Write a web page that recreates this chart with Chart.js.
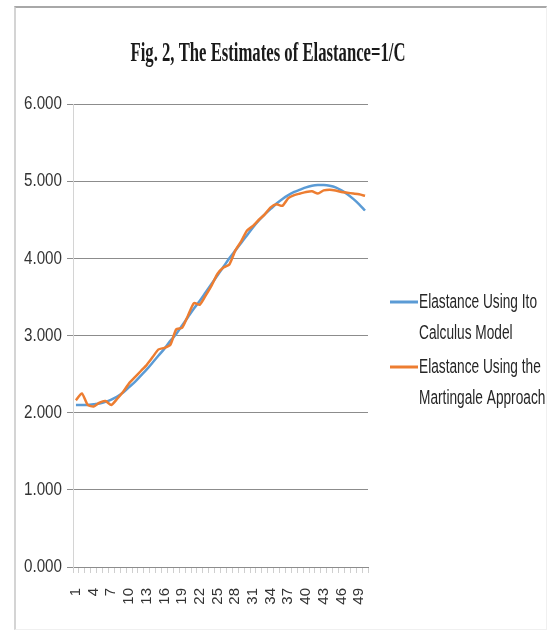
<!DOCTYPE html>
<html>
<head>
<meta charset="utf-8">
<script src="https://cdn.jsdelivr.net/npm/chart.js@4/dist/chart.umd.min.js"></script>
<style>
  html, body { margin: 0; padding: 0; background: #fff; }
  #wrap { position: relative; width: 556px; height: 633px; overflow: hidden; }
  #frame {
    position: absolute; left: 14px; top: 6px; width: 533px; height: 624px;
    box-sizing: border-box;
    border-top: 2px solid #a8a8a8; border-left: 2px solid #d4d4d4;
    border-right: 1px solid #f0f0f0; border-bottom: 1px solid #f0f0f0;
  }
  canvas { position: absolute; left: 0; top: 0; }
</style>
</head>
<body>
<div id="wrap">
  <div id="frame"></div>
  <canvas id="chart" width="556" height="633"></canvas>
</div>
<script>
// Observation index 1..50
const categories = ['1','2','3','4','5','6','7','8','9','10',
  '11','12','13','14','15','16','17','18','19','20',
  '21','22','23','24','25','26','27','28','29','30',
  '31','32','33','34','35','36','37','38','39','40',
  '41','42','43','44','45','46','47','48','49','50'];

// Elastance estimated with the Ito calculus model
const itoModel = [2.10, 2.10, 2.10, 2.11, 2.12, 2.14, 2.17, 2.21, 2.26, 2.33,
  2.40, 2.48, 2.56, 2.65, 2.74, 2.83, 2.93, 3.02, 3.13, 3.24,
  3.35, 3.45, 3.56, 3.67, 3.78, 3.89, 4.00, 4.10, 4.20, 4.30,
  4.40, 4.49, 4.57, 4.64, 4.71, 4.77, 4.82, 4.86, 4.89, 4.92,
  4.94, 4.95, 4.95, 4.94, 4.92, 4.88, 4.83, 4.77, 4.70, 4.62];

// Elastance estimated with the martingale approach
const martingale = [2.16, 2.25, 2.10, 2.08, 2.13, 2.15, 2.10, 2.18, 2.27, 2.38,
  2.46, 2.54, 2.62, 2.72, 2.82, 2.84, 2.88, 3.08, 3.10, 3.26,
  3.42, 3.40, 3.52, 3.65, 3.80, 3.88, 3.92, 4.10, 4.22, 4.36,
  4.42, 4.50, 4.57, 4.66, 4.70, 4.68, 4.78, 4.82, 4.84, 4.86,
  4.87, 4.84, 4.88, 4.89, 4.88, 4.86, 4.85, 4.84, 4.83, 4.81];

const yMin = 0, yMax = 6, yStep = 1;
const seriesNames = ['Elastance Using Ito Calculus Model', 'Elastance Using the Martingale Approach'];
const legendLines = [['Elastance Using Ito', 'Calculus Model'], ['Elastance Using the', 'Martingale Approach']];
const titleText = 'Fig. 2, The Estimates of Elastance=1/C';
const seriesColors = ['#5b9bd5', '#ed7d31'];

const sans = '"Liberation Sans", Arial, sans-serif';

// Draw text squeezed horizontally by factor sx
function drawCondensed(ctx, text, x, y, sx, align) {
  ctx.save();
  ctx.translate(x, y);
  ctx.scale(sx, 1);
  ctx.textAlign = align;
  ctx.fillText(text, 0, 0);
  ctx.restore();
}

// Condensed serif title above the plot
const titlePlugin = {
  id: 'figTitle',
  afterDraw(chart) {
    const ctx = chart.ctx;
    ctx.save();
    ctx.fillStyle = '#1a1a1a';
    ctx.font = 'bold 27px "Liberation Serif", "Times New Roman", serif';
    ctx.textBaseline = 'alphabetic';
    const sx = 275 / ctx.measureText(titleText).width;
    drawCondensed(ctx, titleText, 268, 61, sx, 'center');
    ctx.restore();
  }
};

// Narrow value labels beside the y gridlines, placed through the y scale
const yLabels = {
  id: 'yLabels',
  afterDraw(chart) {
    const ctx = chart.ctx;
    const scale = chart.scales.y;
    ctx.save();
    ctx.fillStyle = '#333333';
    ctx.font = '19px ' + sans;
    ctx.textBaseline = 'middle';
    const sx = 38 / ctx.measureText('6.000').width;
    scale.ticks.forEach((t) => {
      const y = scale.getPixelForValue(t.value);
      drawCondensed(ctx, Number(t.value).toFixed(3), scale.right - 11, y, sx, 'right');
    });
    ctx.restore();
  }
};

// Two-line legend entries to the right of the plot
const sideLegend = {
  id: 'sideLegend',
  afterDraw(chart) {
    const ctx = chart.ctx;
    const area = chart.chartArea;
    const x0 = area.right + 22;
    const rows = [area.top + 198, area.top + 263];
    ctx.save();
    ctx.font = '20px ' + sans;
    const sx = 118 / ctx.measureText(legendLines[0][0]).width;
    chart.data.datasets.forEach((ds, i) => {
      const y = rows[i];
      ctx.strokeStyle = ds.borderColor;
      ctx.lineWidth = 3;
      ctx.beginPath();
      ctx.moveTo(x0, y);
      ctx.lineTo(x0 + 28, y);
      ctx.stroke();
      ctx.fillStyle = '#262626';
      ctx.textBaseline = 'middle';
      legendLines[i].forEach((line, k) => {
        drawCondensed(ctx, line, x0 + 29, y + k * 31, sx, 'left');
      });
    });
    ctx.restore();
  }
};

new Chart(document.getElementById('chart'), {
  type: 'line',
  data: {
    labels: categories,
    datasets: [
      { label: seriesNames[0], data: itoModel, borderColor: seriesColors[0], backgroundColor: seriesColors[0],
        borderWidth: 2.5, pointRadius: 0, tension: 0.3, order: 1 },
      { label: seriesNames[1], data: martingale, borderColor: seriesColors[1], backgroundColor: seriesColors[1],
        borderWidth: 2.5, pointRadius: 0, tension: 0.2, order: 0 }
    ]
  },
  options: {
    responsive: false,
    animation: false,
    layout: { padding: { left: 14, right: 188, top: 104, bottom: 10 } },
    plugins: { legend: { display: false }, title: { display: false }, tooltip: { enabled: false } },
    scales: {
      x: {
        offset: true,
        grid: { offset: true, drawOnChartArea: false, tickLength: 6, color: '#cfcfcf' },
        border: { color: '#8c8c8c', width: 1 },
        ticks: {
          autoSkip: false, minRotation: 90, maxRotation: 90, padding: 15,
          color: '#333333', font: { family: sans, size: 15 },
          callback: (v, i) => (i % 3 === 0 ? categories[i] : '')
        },
        afterFit: (s) => { s.height = 56; }
      },
      y: {
        min: yMin, max: yMax,
        grid: { color: '#8c8c8c', tickLength: 6 },
        border: { color: '#d4d4d4', width: 1 },
        ticks: { stepSize: yStep, display: false },
        afterFit: (s) => { s.width = 59; }
      }
    }
  },
  plugins: [titlePlugin, yLabels, sideLegend]
});
</script>
</body>
</html>
